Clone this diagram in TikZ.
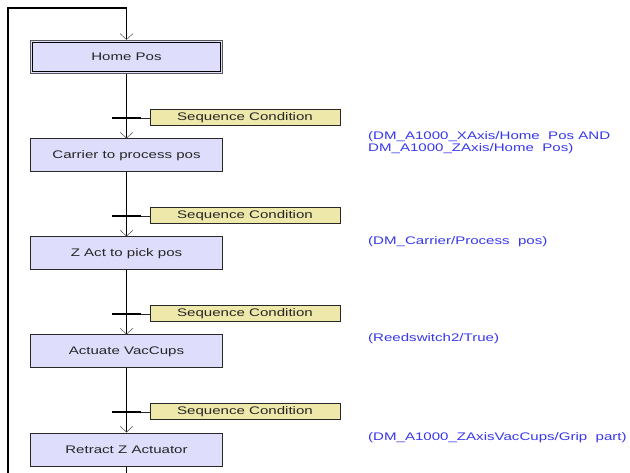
\documentclass[tikz,border=0pt]{standalone}
\usepackage{fontspec}
\setmainfont{Liberation Sans}[FakeStretch=1.37]
\usetikzlibrary{arrows.meta}
\definecolor{stepfill}{RGB}{222,222,252}
\definecolor{condfill}{RGB}{238,232,170}
\definecolor{condtext}{RGB}{55,55,235}
\definecolor{edge}{RGB}{40,40,40}
\begin{document}
\begin{tikzpicture}[x=1pt,y=-1pt,
  font=\fontsize{11}{13}\selectfont,
  stepbox/.style={draw=edge,line width=1pt,fill=stepfill,minimum width=192pt,minimum height=33pt,inner sep=0pt,text=black!85},
  initbox/.style={stepbox,draw=black!65,line width=1.2pt},
  condbox/.style={draw=edge,line width=1pt,fill=condfill,minimum width=190pt,minimum height=16pt,inner sep=0pt,text=black!85},
  bar/.style={fill=black,minimum width=29pt,minimum height=2pt,inner sep=0pt},
  cond/.style={text=condtext,anchor=north west,inner sep=0pt,align=left,font=\fontsize{11}{12}\selectfont},
  flow/.style={line width=1pt,draw=black},
  arr/.style={flow,-{Straight Barb[length=6pt,width=13pt,line width=0.5pt,color=black!70]}},
  link/.style={line width=0.8pt,draw=edge}]
\useasboundingbox (0,0) rectangle (630,473);
% steps
\node[initbox] (s1) at (126.5,57) {Home Pos};
\draw[black,line width=1pt] ([shift={(3,2.5)}]s1.north west) rectangle ([shift={(-3,-2.5)}]s1.south east);
\node[stepbox] (s2) at (126.5,155.5) {Carrier to process pos};
\node[stepbox] (s3) at (126.5,253.5) {Z Act to pick pos};
\node[stepbox] (s4) at (126.5,351.5) {Actuate VacCups};
\node[stepbox] (s5) at (126.5,449.5) {Retract Z Actuator};
% transitions
\node[bar] (t1) at (126.5,118) {};
\node[bar] (t2) at (126.5,216) {};
\node[bar] (t3) at (126.5,314) {};
\node[bar] (t4) at (126.5,412) {};
% condition boxes
\node[condbox] (c1) at (245,118) {Sequence Condition};
\node[condbox] (c2) at (245,216) {Sequence Condition};
\node[condbox] (c3) at (245,314) {Sequence Condition};
\node[condbox] (c4) at (245,412) {Sequence Condition};
% condition texts
\node[cond] (l1) at (368,131.5) {(DM\_A1000\_XAxis/Home~~Pos AND\\ DM\_A1000\_ZAxis/Home~~Pos)};
\node[cond] (l2) at (368,236.5) {(DM\_Carrier/Process~~pos)};
\node[cond] (l3) at (368,333.5) {(Reedswitch2/True)};
\node[cond] (l4) at (368,432) {(DM\_A1000\_ZAxisVacCups/Grip~~part)};
% loop
\coordinate (top) at (126.5,8);
\coordinate (topl) at (8,8);
\coordinate (botl) at (8,473);
\coordinate (bot) at (126.5,473);
\draw[flow,line width=1.3pt] (botl) -- (topl) -- (top);
\draw[arr] (top) -- (s1.north);
% spine
\draw[arr] (s1.south) -- (s2.north);
\draw[arr] (s2.south) -- (s3.north);
\draw[arr] (s3.south) -- (s4.north);
\draw[arr] (s4.south) -- (s5.north);
\draw[flow] (s5.south) -- (bot);
% links
\foreach \i in {1,2,3,4} \draw[link] (t\i.east) -- (c\i.west);
\end{tikzpicture}
\end{document}
